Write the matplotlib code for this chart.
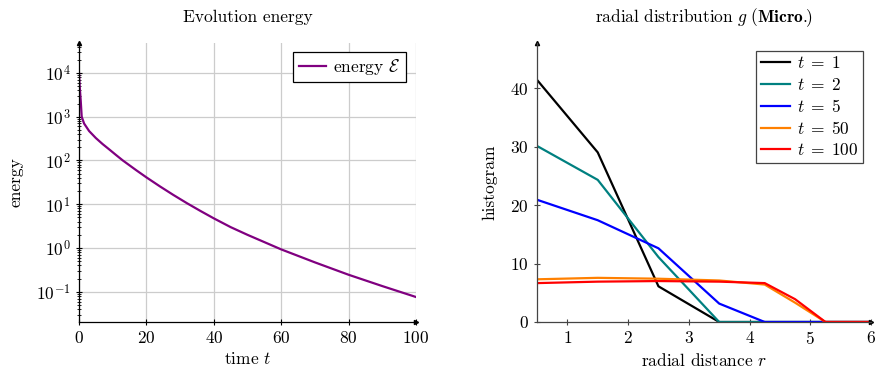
import matplotlib
matplotlib.use("Agg")
import matplotlib.pyplot as plt
from matplotlib.ticker import FixedLocator, NullFormatter
import numpy as np

plt.rcParams['font.family'] = 'serif'
plt.rcParams['font.serif'] = ['cmr10', 'DejaVu Serif']
plt.rcParams['mathtext.fontset'] = 'cm'
plt.rcParams['axes.formatter.use_mathtext'] = True
plt.rcParams['axes.unicode_minus'] = False

# ---- left: energy evolution ----
time_t = [0, 0.2, 0.5, 0.8, 1.5, 3, 5, 7, 9, 11, 13, 17, 20, 24, 28, 32, 36, 40,
          45, 50, 60, 70, 80, 90, 100]
energy = [10000, 5000, 2400, 1000, 700, 470, 325, 237, 178, 133, 100, 59.7, 41.1,
          25.6, 16.3, 10.6, 7.05, 4.76, 3.0, 2.0, 0.93, 0.47, 0.245, 0.135, 0.076]
time_ticks = [0, 20, 40, 60, 80, 100]
energy_ticks = [1e-1, 1e0, 1e1, 1e2, 1e3, 1e4]

# ---- right: radial distribution ----
r_vals = [0.5, 1.5, 2.5, 3.5, 4.25, 4.75, 5.25, 5.75, 6.25]
g_t1 = [41.4, 29.0, 6.1, 0, 0, 0, 0, 0, 0]
g_t2 = [30.1, 24.3, 11.1, 0, 0, 0, 0, 0, 0]
g_t5 = [20.9, 17.4, 12.6, 3.15, 0, 0, 0, 0, 0]
g_t50 = [7.3, 7.55, 7.4, 7.1, 6.4, 3.3, 0, 0, 0]
g_t100 = [6.65, 6.9, 7.0, 6.9, 6.65, 3.9, 0, 0, 0]
series_labels = ['$t\\;=\\;1$', '$t\\;=\\;2$', '$t\\;=\\;5$', '$t\\;=\\;50$', '$t\\;=\\;100$']
series_colors = ['black', '#008080', '#0000ff', '#ff8000', '#ff0000']
r_ticks = [1, 2, 3, 4, 5, 6]
g_ticks = [0, 10, 20, 30, 40]

fig = plt.figure(figsize=(8.75, 3.69), dpi=100)
FS = 12.5

ax1 = fig.add_axes([79/875, 1-322/369, (416-79)/875, (322-43)/369])
ax1.plot(time_t, energy, color='#800080', lw=1.6, label=r'energy $\mathcal{E}$')
ax1.set_yscale('log')
ax1.set_xlim(0, 100)
ax1.set_ylim(10**-1.69, 10**4.683)
ax1.set_xticks(time_ticks)
ax1.set_yticks(energy_ticks)
minor = [m * 10.0**e for e in range(-2, 5) for m in range(2, 10)]
minor = [v for v in minor if 10**-1.69 <= v <= 10**4.683]
ax1.yaxis.set_minor_locator(FixedLocator(minor))
ax1.yaxis.set_minor_formatter(NullFormatter())
ax1.grid(True, which='major', color='#cccccc', lw=0.9)
ax1.set_axisbelow(True)
for s in ['top', 'right']:
    ax1.spines[s].set_visible(False)
for s in ['left', 'bottom']:
    ax1.spines[s].set_linewidth(0.9)
ax1.tick_params(which='both', direction='inout', labelsize=FS)
ax1.tick_params(which='major', length=5)
ax1.tick_params(which='minor', length=3)
ax1.tick_params(axis='x', which='minor', bottom=False)
ax1.set_title('Evolution energy', fontsize=FS, pad=15)
ax1.set_xlabel('time $t$', fontsize=FS, labelpad=3)
ax1.set_ylabel('energy', fontsize=FS, labelpad=9)
ax1.plot(1, 0, '>', color='black', ms=3, transform=ax1.transAxes, clip_on=False)
ax1.plot(0, 1, '^', color='black', ms=3, transform=ax1.transAxes, clip_on=False)
leg1 = ax1.legend(loc='upper right', fontsize=FS, fancybox=False, edgecolor='black',
                  framealpha=1, handlelength=1.6, borderpad=0.3, handletextpad=0.4,
                  borderaxespad=0, bbox_to_anchor=(0.970, 0.968))
leg1.get_frame().set_linewidth(0.9)

ax2 = fig.add_axes([537/875, 1-322/369, (871-537)/875, (322-43)/369])
all_series = [g_t1, g_t2, g_t5, g_t50, g_t100]
for vals, lab, col in zip(all_series, series_labels, series_colors):
    ax2.plot(r_vals, vals, color=col, lw=1.6, label=lab)
ax2.set_xlim(0.5, 6)
ax2.set_ylim(0, 47.7)
ax2.set_xticks(r_ticks)
ax2.set_yticks(g_ticks)
for s in ['top', 'right']:
    ax2.spines[s].set_visible(False)
for s in ['left', 'bottom']:
    ax2.spines[s].set_linewidth(0.9)
    ax2.spines[s].set_color('#444444')
ax2.tick_params(direction='inout', length=5, labelsize=FS, color='#444444')
ax2.set_title(r'$\mathrm{radial\ distribution}\ g\ (\mathbf{Micro.}\!\!)$', fontsize=FS, pad=15)
ax2.set_xlabel('radial distance $r$', fontsize=FS, labelpad=3)
ax2.set_ylabel('histogram', fontsize=FS, labelpad=9)
ax2.plot(1, 0, '>', color='black', ms=3, transform=ax2.transAxes, clip_on=False)
ax2.plot(0, 1, '^', color='black', ms=3, transform=ax2.transAxes, clip_on=False)
leg2 = ax2.legend(loc='upper right', fontsize=FS, fancybox=False, edgecolor='#444444',
                  framealpha=1, handlelength=1.7, borderpad=0.25, handletextpad=0.4,
                  labelspacing=0.3, borderaxespad=0, bbox_to_anchor=(0.976, 0.971))
leg2.get_frame().set_linewidth(0.9)

fig.savefig('out.png', dpi=100)
